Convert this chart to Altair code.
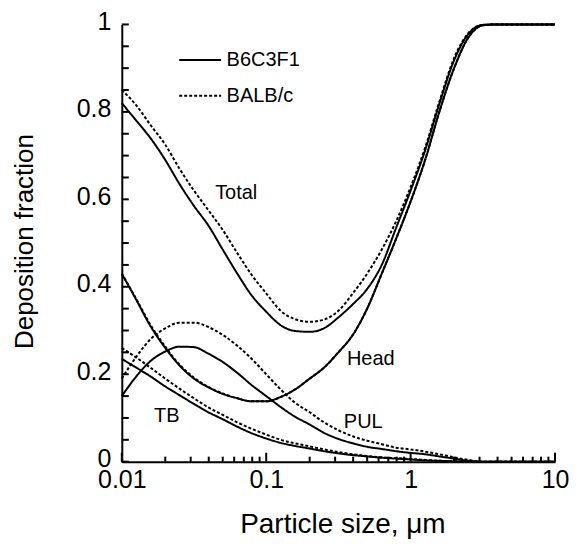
import altair as alt
import pandas as pd

# Particle sizes (um)
size = [0.01, 0.0126, 0.0158, 0.02, 0.0251, 0.0316, 0.0398, 0.05, 0.0631, 0.0794,
        0.1, 0.126, 0.158, 0.2, 0.251, 0.316, 0.398, 0.5, 0.631, 0.794,
        1, 1.26, 1.58, 2, 2.51, 3.16, 3.98, 5, 6.31, 7.94, 10]

total_b6 = [0.82, 0.78, 0.74, 0.69, 0.635, 0.585, 0.54, 0.485, 0.43, 0.38,
            0.343, 0.312, 0.299, 0.297, 0.305, 0.33, 0.36, 0.395, 0.45, 0.535,
            0.62, 0.712, 0.818, 0.918, 0.978, 0.999, 1, 1, 1, 1, 1]
total_balb = [0.85, 0.815, 0.77, 0.725, 0.67, 0.62, 0.575, 0.53, 0.477, 0.427,
              0.385, 0.345, 0.326, 0.32, 0.325, 0.345, 0.385, 0.43, 0.485, 0.55,
              0.628, 0.718, 0.823, 0.923, 0.98, 0.999, 1, 1, 1, 1, 1]
head_b6 = [0.43, 0.37, 0.31, 0.26, 0.22, 0.19, 0.17, 0.155, 0.145, 0.138,
           0.138, 0.148, 0.165, 0.19, 0.215, 0.25, 0.29, 0.35, 0.43, 0.51,
           0.595, 0.69, 0.8, 0.9, 0.97, 0.998, 1, 1, 1, 1, 1]
head_balb = [0.43, 0.372, 0.313, 0.263, 0.222, 0.192, 0.171, 0.156, 0.145, 0.138,
             0.138, 0.148, 0.165, 0.19, 0.215, 0.25, 0.29, 0.35, 0.43, 0.51,
             0.595, 0.69, 0.8, 0.9, 0.97, 0.998, 1, 1, 1, 1, 1]
pul_b6 = [0.15, 0.195, 0.23, 0.252, 0.263, 0.262, 0.247, 0.228, 0.203, 0.175,
          0.15, 0.125, 0.103, 0.085, 0.066, 0.052, 0.042, 0.034, 0.029, 0.024,
          0.02, 0.017, 0.012, 0.007, 0.002, 0, 0, 0, 0, 0, 0]
pul_balb = [0.19, 0.24, 0.28, 0.305, 0.318, 0.318, 0.308, 0.29, 0.265, 0.235,
            0.2, 0.165, 0.135, 0.113, 0.09, 0.072, 0.058, 0.048, 0.04, 0.032,
            0.028, 0.023, 0.017, 0.01, 0.004, 0, 0, 0, 0, 0, 0]
tb_b6 = [0.235, 0.215, 0.195, 0.172, 0.152, 0.132, 0.113, 0.097, 0.08, 0.065,
         0.053, 0.043, 0.036, 0.03, 0.024, 0.019, 0.015, 0.012, 0.009, 0.007,
         0.005, 0.003, 0.002, 0.001, 0, 0, 0, 0, 0, 0, 0]
tb_balb = [0.26, 0.238, 0.215, 0.19, 0.167, 0.145, 0.124, 0.107, 0.09, 0.075,
           0.062, 0.05, 0.042, 0.035, 0.028, 0.022, 0.017, 0.013, 0.01, 0.008,
           0.006, 0.004, 0.002, 0.001, 0, 0, 0, 0, 0, 0, 0]

strains = ["B6C3F1", "BALB/c"]
series = {
    ("Total", "B6C3F1"): total_b6, ("Total", "BALB/c"): total_balb,
    ("Head", "B6C3F1"): head_b6, ("Head", "BALB/c"): head_balb,
    ("PUL", "B6C3F1"): pul_b6, ("PUL", "BALB/c"): pul_balb,
    ("TB", "B6C3F1"): tb_b6, ("TB", "BALB/c"): tb_balb,
}

# Curve labels
label_text = ["Total", "Head", "PUL", "TB"]
label_x = [0.062, 0.53, 0.47, 0.0205]
label_y = [0.615, 0.234, 0.09, 0.104]

# Axis ticks
y_labels = [0, 0.2, 0.4, 0.6, 0.8, 1]
y_ticks = [0, 0.05, 0.1, 0.15, 0.2, 0.25, 0.3, 0.35, 0.4, 0.45, 0.5,
           0.55, 0.6, 0.65, 0.7, 0.75, 0.8, 0.85, 0.9, 0.95, 1]
x_labels = [0.01, 0.1, 1, 10]
x_minor = [0.02, 0.03, 0.04, 0.05, 0.06, 0.07, 0.08, 0.09,
           0.2, 0.3, 0.4, 0.5, 0.6, 0.7, 0.8, 0.9,
           2, 3, 4, 5, 6, 7, 8, 9]

rows = []
for (reg, st), vals in series.items():
    for d, v in zip(size, vals):
        rows.append({"size": d, "value": v, "region": reg, "strain": st,
                     "key": reg + "|" + st})
df = pd.DataFrame(rows)

FONT = "Liberation Sans"
W = 434
H = 438

xscale = alt.Scale(type="log", domain=[0.01, 10], nice=False)
yscale = alt.Scale(domain=[0, 1], nice=False, zero=False)

xaxis = alt.Axis(values=x_labels, format="~g", grid=False, ticks=False, tickSize=0,
                 domainColor="black", domainWidth=2, labelFont=FONT, labelFontSize=25,
                 labelColor="black", labelPadding=6, labelFlush=False, labelOverlap=False,
                 title="Particle size, μm", titleFont=FONT, titleFontSize=28,
                 titleFontWeight="normal", titleColor="black", titleX=221, titleY=71,
                 titleBaseline="alphabetic", titleAlign="center")
yaxis = alt.Axis(values=y_labels, format="~g", grid=False, ticks=False, tickSize=0,
                 domainColor="black", domainWidth=2, labelFont=FONT, labelFontSize=25,
                 labelColor="black", labelPadding=11, labelOffset=-3, labelFlush=False,
                 labelOverlap=False,
                 title="Deposition fraction", titleFont=FONT, titleFontSize=26,
                 titleFontWeight="normal", titleColor="black", titleX=-89, titleY=217,
                 titleBaseline="alphabetic", titleAlign="center", titleAngle=270)

lines = alt.Chart(df).mark_line(color="black", strokeWidth=2, interpolate="monotone").encode(
    x=alt.X("size:Q", scale=xscale, axis=xaxis),
    y=alt.Y("value:Q", scale=yscale, axis=yaxis),
    strokeDash=alt.StrokeDash(
        "strain:N",
        scale=alt.Scale(domain=strains, range=[[1, 0], [3, 2]]),
        legend=alt.Legend(title=None, orient="none", legendX=60, legendY=17,
                          symbolType="M-1.2,0H1.2", symbolSize=1225,
                          symbolStrokeWidth=2, symbolStrokeColor="black",
                          labelFont=FONT, labelFontSize=20, labelColor="black",
                          labelOffset=8, rowPadding=7, padding=0),
    ),
    detail="key:N",
    order="size:Q",
)

labels_df = pd.DataFrame({"text": label_text, "x": label_x, "y": label_y})
labels = alt.Chart(labels_df).mark_text(font=FONT, fontSize=20, color="black",
                                        align="center", baseline="middle").encode(
    x=alt.X("x:Q", scale=xscale), y=alt.Y("y:Q", scale=yscale), text="text:N")

yt = alt.Chart(pd.DataFrame({"t": y_ticks})).mark_rule(color="black", strokeWidth=2).encode(
    y=alt.Y("t:Q", scale=yscale), x=alt.value(0), x2=alt.value(7))
xt_major = alt.Chart(pd.DataFrame({"t": x_labels})).mark_rule(color="black", strokeWidth=2).encode(
    x=alt.X("t:Q", scale=xscale), y=alt.value(H), y2=alt.value(H - 9))
xt_minor = alt.Chart(pd.DataFrame({"t": x_minor})).mark_rule(color="black", strokeWidth=2).encode(
    x=alt.X("t:Q", scale=xscale), y=alt.value(H), y2=alt.value(H - 5))

chart = alt.layer(lines, labels, yt, xt_major, xt_minor).properties(
    width=W, height=H,
    autosize=alt.AutoSizeParams(type="none"),
    padding={"left": 114, "top": 16, "right": 14, "bottom": 80},
).configure(background="white", view=alt.ViewConfig(stroke=None))

chart.save("out.html", embed_options={"renderer": "svg", "actions": False})
